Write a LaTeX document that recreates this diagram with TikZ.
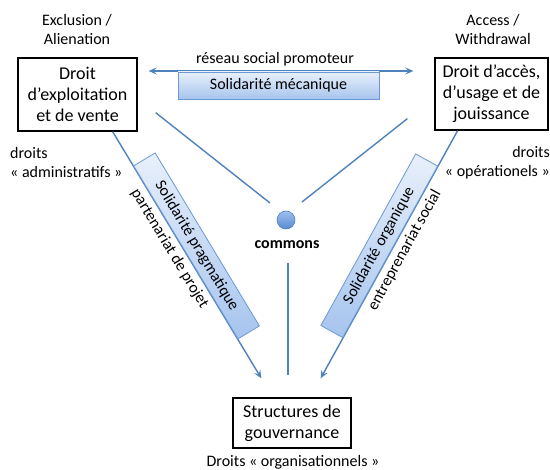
\documentclass[tikz,border=0pt]{standalone}
\usepackage{fontspec}
\setmainfont{Carlito}
\usetikzlibrary{arrows.meta,calc}
\definecolor{lineblue}{RGB}{79,129,189}
\definecolor{boxtop}{RGB}{232,240,251}
\definecolor{boxbot}{RGB}{166,196,238}
\definecolor{boxedge}{RGB}{108,152,211}
\definecolor{balltop}{RGB}{160,192,238}
\definecolor{ballbot}{RGB}{88,138,210}
\tikzset{
  rightsbox/.style={draw=black, line width=1.3pt, inner sep=0pt, align=center,
     font=\fontsize{18}{21}\selectfont},
  lbl/.style={inner sep=0pt, font=\fontsize{16}{19.5}\selectfont},
  solbox/.style={draw=boxedge, line width=0.8pt, top color=boxtop, bottom color=boxbot,
     inner sep=0pt, font=\fontsize{16}{19.5}\selectfont},
  conn/.style={draw=lineblue, line width=1.4pt},
  tip/.style={-{Stealth[length=8pt,width=7pt,inset=3pt]}},
  dtip/.style={{Stealth[length=8pt,width=7pt,inset=3pt]}-{Stealth[length=8pt,width=7pt,inset=3pt]}}
}
\begin{document}
\begin{tikzpicture}[x=1pt,y=-1pt]
\useasboundingbox (0,0) rectangle (550,470);
% rights boxes
\node[rightsbox, minimum width=119pt, minimum height=73pt] (exploit) at (77.5,94.5)
  {Droit\\d’exploitation\\et de vente};
\node[rightsbox, minimum width=113pt, minimum height=72pt] (acces) at (491.5,94)
  {Droit d’accès,\\d’usage et de\\jouissance};
\node[rightsbox, minimum width=118pt, minimum height=50pt] (gouv) at (292,423)
  {Structures de\\gouvernance};
% labels
\node[lbl, align=center] (excl) at (77,29.5) {Exclusion /\\Alienation};
\node[lbl, align=center] (accw) at (493,29.5) {Access /\\Withdrawal};
\node[lbl, align=left, anchor=west] (admin) at (10,162.5) {droits\\« administratifs »};
\node[lbl, align=right, anchor=east] (oper) at (550,162.5) {droits\\« opérationels »};
\node[lbl] (orga) at (293,462) {Droits « organisationnels »};
% commons
\node[circle, draw=lineblue, line width=0.6pt, top color=balltop, bottom color=ballbot,
  minimum size=18pt, inner sep=0pt] (commons) at (286,220) {};
\node[lbl, font=\fontsize{16}{19.5}\selectfont\bfseries] (commlbl) at (287,245) {commons};
% top double arrow
\coordinate (ta) at ($(exploit.east)+(11,-23.5)$);
\coordinate (tb) at ($(acces.west)+(-21,-23)$);
\draw[conn, dtip] (ta) -- (tb);
\node[lbl] (reseau) at (275,59) {réseau social promoteur};
\node[solbox, minimum width=201pt, minimum height=27pt] (meca) at (278.5,85.5) {Solidarité mécanique};
% lines to commons
\draw[conn] ($(exploit.south east)+(18,-19)$) -- ($(commons.center)+(-16,-17)$);
\draw[conn] ($(acces.south west)+(-27,-12)$) -- ($(commons.center)+(16,-18)$);
\draw[conn] ($(commlbl.south)+(1,14)$) -- ($(gouv.north)+(-4,-22)$);
% pragmatic arrow
\draw[conn, tip] ($(exploit.south east)+(-25,0)$) --
  node[solbox, sloped, pos=0.49, anchor=south, minimum width=202pt, minimum height=25pt] (prag) {Solidarité pragmatique}
  node[lbl, sloped, pos=0.45, anchor=north, yshift=-4pt] (part) {partenariat de projet}
  ($(gouv.north west)+(29,-19)$);
% organic arrow
\draw[conn, tip] ($(acces.south east)+(-91,0)$) --
  node[solbox, sloped, pos=0.49, anchor=south, minimum width=196pt, minimum height=25pt] (orgq) {Solidarité organique}
  node[lbl, sloped, pos=0.46, anchor=north, yshift=-4pt] (entr) {entreprenariat social}
  ($(gouv.north east)+(-31,-19)$);
\end{tikzpicture}
\end{document}
